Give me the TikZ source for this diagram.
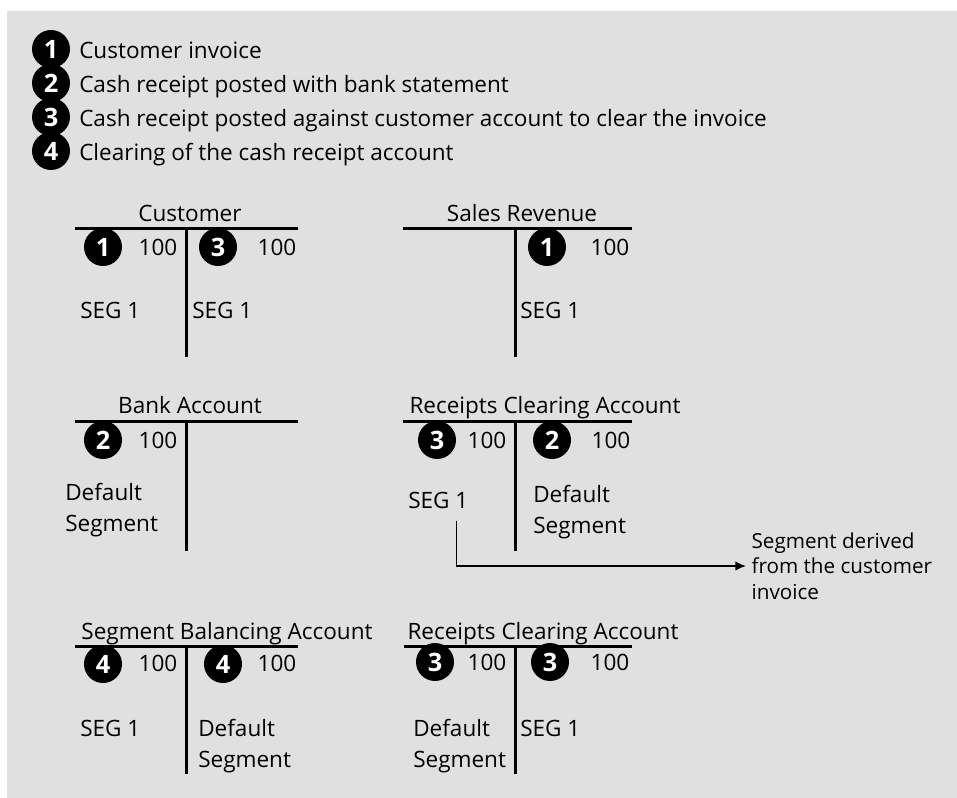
\documentclass[tikz,border=0pt]{standalone}
\usepackage{fontspec}
\setmainfont{Open Sans}
\usetikzlibrary{positioning,arrows.meta}
\definecolor{panelgray}{HTML}{E0E0E0}

\begin{document}
\begin{tikzpicture}[
                        x=0.75pt, y=-0.75pt,
                        >={Latex[length=8pt,width=7pt]},
                        num/.style={circle, fill=black, text=white, inner sep=0pt, minimum size=28.5pt, font=\bfseries\fontsize{19}{19}\selectfont},
                        txt/.style={inner sep=0pt, font=\fontsize{16.9}{23.25}\selectfont},
                        ttl/.style={txt, anchor=base},
                        note/.style={inner sep=4pt, align=left, font=\fontsize{15.5}{19}\selectfont},
                        tline/.style={line width=2.25pt}
                    ]
                    \useasboundingbox (0,0) rectangle (957,798);
                    \fill [panelgray] (7,11) rectangle (957,798);

                    % Legend
                    \node [num] (l1) at (51,49) {1};
                    \node [num] (l2) at (51,83) {2};
                    \node [num] (l3) at (51,117) {3};
                    \node [num] (l4) at (51,151) {4};
                    \node [txt, anchor=base west] (t1) at ([xshift=21pt]l1.base) {Customer invoice};
                    \node [txt, anchor=base west] (t2) at ([xshift=21pt]l2.base) {Cash receipt posted with bank statement};
                    \node [txt, anchor=base west] (t3) at ([xshift=21pt]l3.base) {Cash receipt posted against customer account to clear the invoice};
                    \node [txt, anchor=base west] (t4) at ([xshift=21pt]l4.base) {Clearing of the cash receipt account};

                    % Customer
                    \node [ttl] (cust) at (190,222) {Customer};
                    \draw [tline] (75,229) -- (298,229);
                    \draw [tline] (186,229) -- (186,357);
                    \node [num] (cust1) at (103,247) {1};
                    \node [txt] (cust1v) at (158,247) {100};
                    \node [num] (cust3) at (218,247) {3};
                    \node [txt] (cust3v) at (277,247) {100};
                    \node [txt, anchor=west] (custsegL) at (80,310) {SEG 1};
                    \node [txt, anchor=west] (custsegR) at (192,310) {SEG 1};

                    % Sales Revenue
                    \node [ttl] (sales) at (522,222) {Sales Revenue};
                    \draw [tline] (403,229) -- (632,229);
                    \draw [tline] (515,229) -- (515,357);
                    \node [num] (sales1) at (547,247) {1};
                    \node [txt] (sales1v) at (610,247) {100};
                    \node [txt, anchor=west] (salesseg) at (520,310) {SEG 1};

                    % Bank Account
                    \node [ttl] (bank) at (190,414) {Bank Account};
                    \draw [tline] (75,422) -- (298,422);
                    \draw [tline] (186,422) -- (186,551);
                    \node [num] (bank2) at (103,440) {2};
                    \node [txt] (bank2v) at (158,440) {100};
                    \node [txt, anchor=north west, align=left] (bankseg) at (65,483) {Default\\Segment};

                    % Receipts Clearing Account (cash receipt)
                    \node [ttl] (rcA) at (545,414) {Receipts Clearing Account};
                    \draw [tline] (403,422) -- (632,422);
                    \draw [tline] (515,422) -- (515,551);
                    \node [num] (rcA3) at (437,440) {3};
                    \node [txt] (rcA3v) at (487,440) {100};
                    \node [num] (rcA2) at (552,440) {2};
                    \node [txt] (rcA2v) at (611,440) {100};
                    \node [txt, anchor=west] (rcAseg) at (408,500) {SEG 1};
                    \node [txt, anchor=north west, align=left] (rcAdef) at (533,485) {Default\\Segment};
                    \node [note, anchor=west] (derived) at (746,566) {Segment derived\\from the customer\\invoice};

                    % Segment Balancing Account
                    \node [ttl] (sba) at (227,639) {Segment Balancing Account};
                    \draw [tline] (75,646) -- (298,646);
                    \draw [tline] (186,646) -- (186,774);
                    \node [num] (sba4L) at (103,664) {4};
                    \node [txt] (sba4Lv) at (158,663) {100};
                    \node [num] (sba4R) at (223,664) {4};
                    \node [txt] (sba4Rv) at (277,663) {100};
                    \node [txt, anchor=west] (sbaseg) at (80,728) {SEG 1};
                    \node [txt, anchor=north west, align=left] (sbadef) at (198,719) {Default\\Segment};

                    % Receipts Clearing Account (clearing)
                    \node [ttl] (rcB) at (543,639) {Receipts Clearing Account};
                    \draw [tline] (404,646) -- (632,646);
                    \draw [tline] (515,646) -- (515,774);
                    \node [num] (rcB3L) at (435,662) {3};
                    \node [txt] (rcB3Lv) at (487,662) {100};
                    \node [num] (rcB3R) at (550,662) {3};
                    \node [txt] (rcB3Rv) at (610,662) {100};
                    \node [txt, anchor=north west, align=left] (rcBdef) at (413,719) {Default\\Segment};
                    \node [txt, anchor=west] (rcBseg) at (520,728) {SEG 1};

                    % Connections
                    \coordinate (segdrop) at ([xshift=-9pt,yshift=-9pt]rcAseg.south east);
                    \draw [->, line width=1.1pt] (segdrop) |- (derived.west);
                \end{tikzpicture}
\end{document}
